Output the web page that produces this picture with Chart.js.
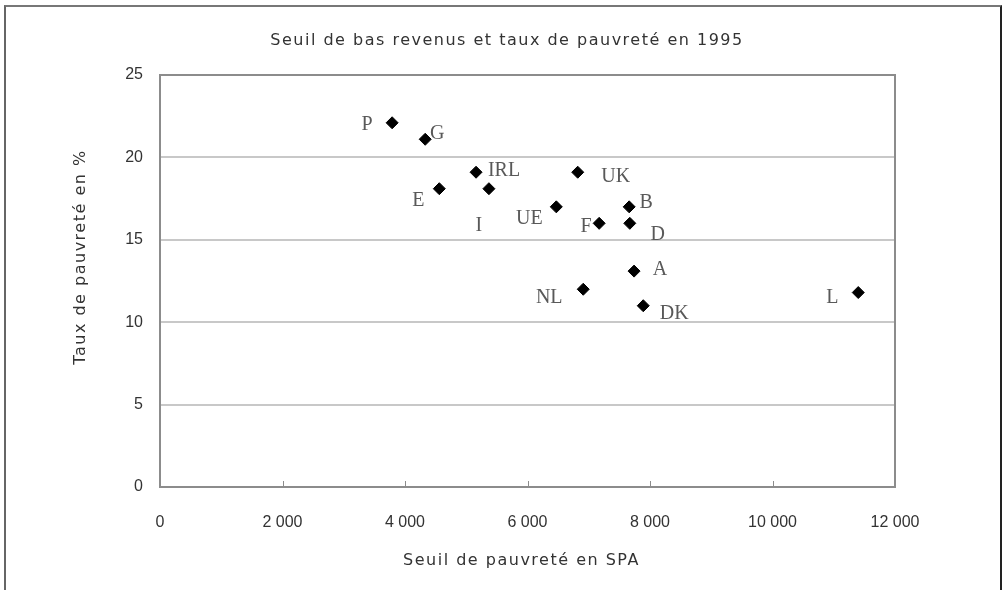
<!DOCTYPE html>
<html lang="fr">
<head>
<meta charset="utf-8">
<title>Seuil de bas revenus et taux de pauvreté en 1995</title>
<script src="https://cdn.jsdelivr.net/npm/chart.js@4/dist/chart.umd.min.js"></script>
<style>
  html, body { margin: 0; padding: 0; background: #fff; }
  #wrap { position: relative; width: 1002px; height: 590px; }
  #frame {
    position: absolute; left: 4px; top: 5px; width: 994px; height: 600px;
    border-top: 2px solid #777; border-left: 2px solid #666; border-right: 2px solid #222;
    pointer-events: none;
  }
</style>
</head>
<body>
<div id="wrap">
  <canvas id="povertyChart" width="1002" height="590"></canvas>
  <div id="frame"></div>
</div>
<script>
// Pays (étiquettes des points)
const countries = ['P', 'G', 'IRL', 'E', 'I', 'UE', 'UK', 'B', 'F', 'D', 'A', 'NL', 'DK', 'L'];
// Seuil de pauvreté en SPA
const thresholds = [3790, 4330, 5160, 4560, 5370, 6470, 6820, 7660, 7170, 7670, 7740, 6910, 7890, 11400];
// Taux de pauvreté en %
const povertyRates = [22.1, 21.1, 19.1, 18.1, 18.1, 17.0, 19.1, 17.0, 16.0, 16.0, 13.1, 12.0, 11.0, 11.8];
// Graduations
const xTicks = [0, 2000, 4000, 6000, 8000, 10000, 12000];
const yTicks = [0, 5, 10, 15, 20, 25];

const chartTitle = 'Seuil de bas revenus et taux de pauvreté en 1995';
const xTitle = 'Seuil de pauvreté en SPA';
const yTitle = 'Taux de pauvreté en %';

// décalage des étiquettes (en pixels) par rapport au point
const labelOffsets = [
  [-25, 2], [12, -6], [28, -1], [-21, 12], [-10, 37], [-27, 12], [38, 5],
  [17, -4], [-13, 3], [28, 11], [26, -1], [-34, 9], [31, 8], [-26, 5]
];

function fmt(v) {
  return String(v).replace(/\B(?=(\d{3})+(?!\d))/g, ' ');
}

const sansFont = '"Liberation Sans", Arial, Helvetica, sans-serif';
const titleFont = '16px "DejaVu Sans", "Liberation Sans", sans-serif';

// Cadre de la zone de tracé, petites graduations en X, titres et étiquettes des pays
const decorPlugin = {
  id: 'decor',
  beforeDatasetsDraw(chart) {
    const { ctx, chartArea: a, scales } = chart;
    ctx.save();
    ctx.strokeStyle = '#8c8c8c';
    ctx.lineWidth = 2;
    ctx.strokeRect(a.left, a.top, a.right - a.left, a.bottom - a.top);
    ctx.lineWidth = 1;
    xTicks.forEach(v => {
      const px = Math.round(scales.x.getPixelForValue(v)) + 0.5;
      ctx.beginPath();
      ctx.moveTo(px, a.bottom);
      ctx.lineTo(px, a.bottom - 6);
      ctx.stroke();
    });
    ctx.restore();
  },
  afterDatasetsDraw(chart) {
    const { ctx, chartArea: a } = chart;
    const meta = chart.getDatasetMeta(0);
    ctx.save();
    ctx.font = '20px "Liberation Serif", "Times New Roman", serif';
    ctx.fillStyle = '#595959';
    ctx.textAlign = 'center';
    ctx.textBaseline = 'middle';
    meta.data.forEach((pt, i) => {
      const off = labelOffsets[i];
      ctx.fillText(countries[i], pt.x + off[0], pt.y + off[1]);
    });

    // titres (texte large comme dans l'original)
    ctx.font = titleFont;
    ctx.fillStyle = '#333';
    ctx.letterSpacing = '1.5px';
    ctx.fillText(chartTitle, 507, 41);
    ctx.fillText(xTitle, (a.left + a.right) / 2 - 6, 561);
    ctx.translate(81, 257);
    ctx.rotate(-Math.PI / 2);
    ctx.fillText(yTitle, 0, 0);
    ctx.restore();
  }
};

new Chart(document.getElementById('povertyChart'), {
  type: 'scatter',
  data: {
    datasets: [{
      label: 'Pays',
      data: thresholds.map((x, i) => ({ x: x, y: povertyRates[i] })),
      pointStyle: 'rectRot',
      pointRadius: 6,
      pointHoverRadius: 6,
      backgroundColor: '#000',
      borderColor: '#000',
      borderWidth: 1
    }]
  },
  options: {
    responsive: false,
    animation: false,
    layout: { padding: { top: 75, right: 107, bottom: 0, left: 0 } },
    plugins: {
      legend: { display: false },
      tooltip: { enabled: false },
      title: { display: false }
    },
    scales: {
      x: {
        type: 'linear',
        min: 0,
        max: 12000,
        afterFit(scale) { scale.height = 103; },
        afterBuildTicks(scale) { scale.ticks = xTicks.map(v => ({ value: v })); },
        grid: { display: false, drawTicks: false },
        border: { display: false },
        ticks: {
          color: '#333',
          padding: 26,
          maxRotation: 0,
          font: { family: sansFont, size: 16 },
          callback: v => fmt(v)
        }
      },
      y: {
        type: 'linear',
        min: 0,
        max: 25,
        afterFit(scale) { scale.width = 160; },
        afterBuildTicks(scale) { scale.ticks = yTicks.map(v => ({ value: v })); },
        grid: { color: '#c8c8c8', lineWidth: 2, drawTicks: false },
        border: { display: false },
        ticks: {
          color: '#333',
          padding: 17,
          font: { family: sansFont, size: 16 }
        }
      }
    }
  },
  plugins: [decorPlugin]
});
</script>
</body>
</html>
